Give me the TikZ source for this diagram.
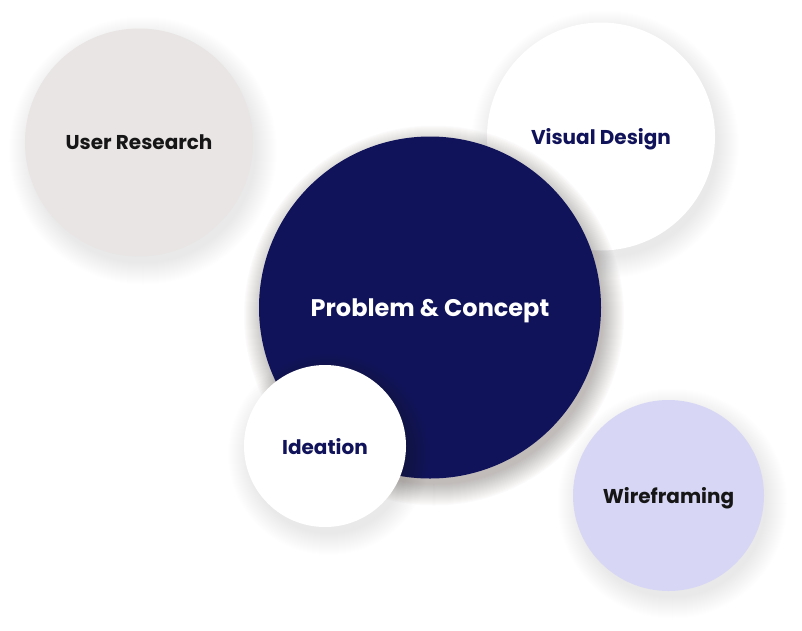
\documentclass[tikz,border=0pt]{standalone}
\usepackage{fontspec}
\setmainfont{Poppins}
\definecolor{navy}{HTML}{10135A}
\definecolor{stone}{HTML}{E8E5E4}
\definecolor{lavender}{HTML}{D7D7F5}
\definecolor{ink}{HTML}{161616}
\definecolor{umbra}{HTML}{4A3B36}

% soft shadow: centre, radius, opacity per ring
\newcommand{\dropshadow}[3]{%
  \foreach \k in {1,...,22}
    \fill[umbra, opacity=#3] ($(#1)+(4,8)$) circle[radius=#2+\k];}

\usetikzlibrary{calc}

\begin{document}
\begin{tikzpicture}[x=1pt,y=-1pt,
    bubble/.style={circle, inner sep=0pt, text depth=0pt, font=\bfseries\fontsize{20}{24}\selectfont}]
    \useasboundingbox (0,0) rectangle (802,630);
    \fill[white] (0,0) rectangle (802,630);

    \dropshadow{139,142.5}{112}{0.004}
    \node[bubble, fill=stone, text=ink, minimum size=228pt] (research) at (139,142.5) {User Research};
      
    \dropshadow{601,136.5}{112}{0.004}
    \node[bubble, fill=white, text=navy, minimum size=228pt] (visual) at (601,136.5) {Visual Design};

    \dropshadow{430,307.5}{168}{0.016}
    \node[bubble, fill=navy, text=white, minimum size=342pt,
      font=\bfseries\fontsize{24}{28}\selectfont] (concept) at (430,307.5) {Problem \& Concept};
    
    \dropshadow{325,446}{79}{0.004}
    \node[bubble, fill=white, text=navy, minimum size=162pt] (ideation) at (325,446) {Ideation};
      
    \dropshadow{668.5,495.5}{93}{0.004}
    \node[bubble, fill=lavender, text=ink, minimum size=191pt] (wireframe) at (668.5,495.5) {Wireframing};
\end{tikzpicture}
\end{document}
